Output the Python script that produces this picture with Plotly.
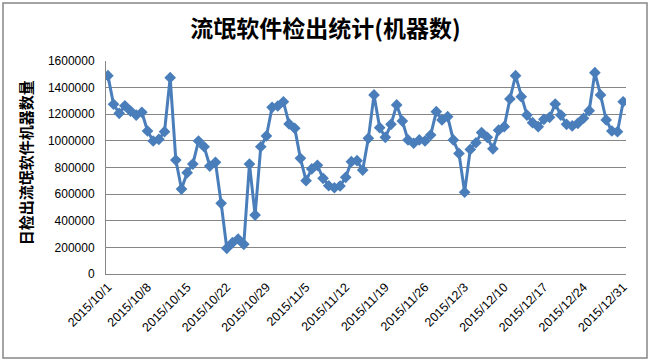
import pandas as pd
import plotly.graph_objects as go

title_text = "流氓软件检出统计(机器数)"
y_title = "日检出流氓软件机器数量"

dates = pd.date_range("2015-10-01", "2015-12-31", freq="D")
values = [
    1490000, 1275000, 1207000, 1264000, 1224000, 1194000, 1215000, 1074000, 999000, 1012000,
    1069000, 1475000, 856000, 638000, 761000, 826000, 999000, 956000, 811000, 839000,
    531000, 193000, 235000, 263000, 223000, 826000, 443000, 956000, 1037000, 1252000,
    1262000, 1294000, 1127000, 1094000, 869000, 701000, 789000, 816000, 719000, 663000,
    648000, 661000, 726000, 844000, 851000, 781000, 1019000, 1345000, 1099000, 1027000,
    1124000, 1270000, 1149000, 1007000, 982000, 1007000, 999000, 1044000, 1219000, 1157000,
    1182000, 1007000, 906000, 614000, 936000, 986000, 1062000, 1027000, 940000, 1080000,
    1107000, 1315000, 1490000, 1332000, 1194000, 1137000, 1107000, 1162000, 1177000, 1277000,
    1194000, 1124000, 1112000, 1132000, 1170000, 1227000, 1512000, 1345000, 1157000, 1074000,
    1069000, 1294000,
]
tick_dates = dates[::7]
tick_labels = [f"{d.year}/{d.month}/{d.day}" for d in tick_dates]
y_ticks = list(range(0, 1600001, 200000))

fig = go.Figure()
fig.add_trace(go.Scatter(
    x=dates, y=values, mode="lines+markers",
    line=dict(color="#4a7ebb", width=3),
    marker=dict(symbol="diamond", size=9, color="#4a7ebb"),
    showlegend=False,
))

fig.update_layout(
    width=651, height=363,
    margin=dict(l=106, r=25, t=61, b=89),
    paper_bgcolor="white", plot_bgcolor="white",
    font=dict(family="Liberation Sans, Noto Sans CJK SC", size=12, color="black"),
    title=dict(text=title_text, x=0.5, xanchor="center", y=1 - 29 / 363, yanchor="middle",
               font=dict(family="Noto Sans CJK SC", size=23, color="black", weight="bold")),
    xaxis=dict(
        automargin=False,
        range=[pd.Timestamp("2015-10-01") - pd.Timedelta(hours=8),
               pd.Timestamp("2015-12-31") + pd.Timedelta(hours=12)],
        tickvals=tick_dates, ticktext=tick_labels, tickangle=-45,
        showgrid=False, showline=True, linecolor="#868686", linewidth=1,
        ticks="", tickfont=dict(size=12.5), zeroline=False,
    ),
    yaxis=dict(
        automargin=False,
        range=[0, 1600000], tickvals=y_ticks, ticktext=[str(v) for v in y_ticks],
        showgrid=True, gridcolor="#868686", gridwidth=1,
        showline=True, linecolor="#868686", linewidth=1, ticks="",
        tickfont=dict(size=12), zeroline=False, ticklabelstandoff=8,
    ),
    annotations=[dict(
        text=y_title, textangle=-90, xref="paper", yref="paper",
        x=(25 - 106) / 520, y=0.52, xanchor="center", yanchor="middle", showarrow=False,
        font=dict(family="Noto Sans CJK SC", size=15, color="black", weight="bold"),
    )],
    shapes=[dict(
        type="rect", xref="paper", yref="paper",
        x0=(3 - 106) / 520, x1=(647 - 106) / 520,
        y0=(274 - 358) / 213, y1=(274 - 3) / 213,
        line=dict(color="#868686", width=1.5), fillcolor="rgba(0,0,0,0)", layer="below",
    )],
)

fig.write_html("out.html", config={"displayModeBar": False},
               post_script="document.body.style.margin='0px';")
